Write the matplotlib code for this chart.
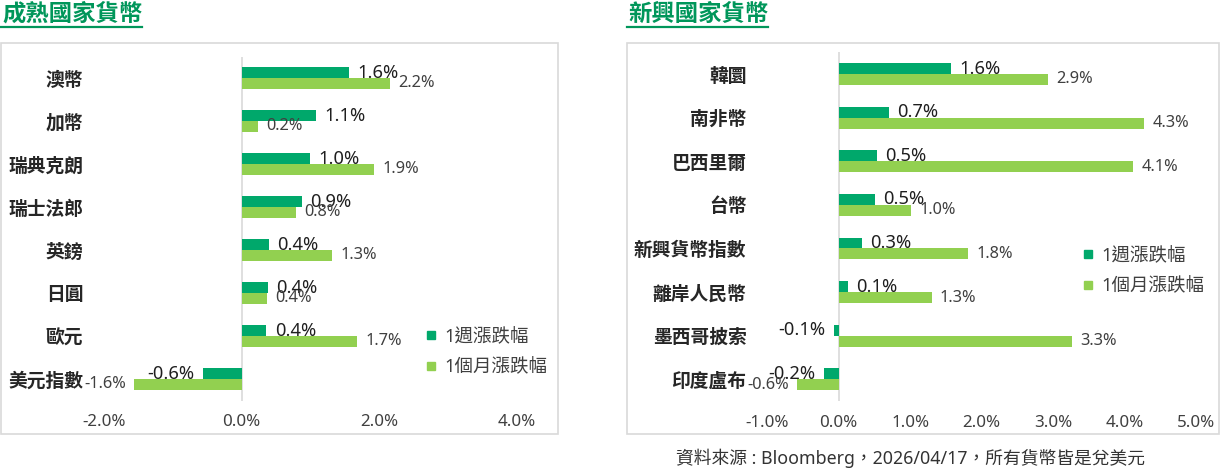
import matplotlib
matplotlib.use('Agg')
import matplotlib.pyplot as plt
from matplotlib.patches import Rectangle
from matplotlib.lines import Line2D

# ---------------- data ----------------
dev_categories = ['澳幣', '加幣', '瑞典克朗', '瑞士法郎', '英鎊', '日圓', '歐元', '美元指數']
dev_week = [1.56, 1.08, 0.99, 0.88, 0.39, 0.38, 0.36, -0.56]
dev_month = [2.16, 0.23, 1.92, 0.79, 1.32, 0.37, 1.68, -1.56]
dev_ticks = [-2, 0, 2, 4]

em_categories = ['韓圜', '南非幣', '巴西里爾', '台幣', '新興貨幣指數', '離岸人民幣', '墨西哥披索', '印度盧布']
em_week = [1.57, 0.70, 0.54, 0.51, 0.32, 0.13, -0.07, -0.21]
em_month = [2.93, 4.28, 4.12, 1.01, 1.81, 1.30, 3.27, -0.58]
em_ticks = [-1, 0, 1, 2, 3, 4, 5]

series_names = ['1週漲跌幅', '1個月漲跌幅']
titles = ['成熟國家貨幣', '新興國家貨幣']
source_text = '資料來源 : Bloomberg，2026/04/17，所有貨幣皆是兌美元'

# ---------------- style ----------------
W, H = 1222, 471
C_WEEK = '#00A86B'
C_MONTH = '#92D050'
C_TITLE = '#00965A'
CJK = ['Noto Sans CJK TC', 'DejaVu Sans']
NUM = ['Noto Sans', 'Noto Sans CJK TC']
plt.rcParams['font.family'] = CJK


def fx(px):
    return px / W


def fy(py):
    return 1 - py / H


fig = plt.figure(figsize=(W / 100, H / 100), dpi=100)

# frames
for (x0, x1) in [(1, 558), (627, 1218.5)]:
    fig.patches.append(Rectangle((fx(x0), fy(433.5)), fx(x1) - fx(x0), fy(42.5) - fy(433.5),
                                 transform=fig.transFigure, fill=False,
                                 edgecolor='#d9d9d9', lw=1.2))

# titles with underline
for (tx, ux0, ux1, t) in [(2, 1, 142, titles[0]), (628, 627, 768, titles[1])]:
    fig.text(fx(tx), fy(14), t, ha='left', va='center', fontsize=16.8,
             fontweight='bold', color=C_TITLE, family=CJK)
    fig.lines.append(Line2D([fx(ux0), fx(ux1)], [fy(27), fy(27)],
                            transform=fig.transFigure, color=C_TITLE, lw=1.6))


def panel(rect, cats, week, month, ticks, xlim, legend_xy):
    ax = fig.add_axes(rect)
    n = len(cats)
    pos = list(range(n))
    bh = 0.25
    yw = [p - bh / 2 for p in pos]
    ym = [p + bh / 2 for p in pos]
    ax.barh(yw, week, height=bh, color=C_WEEK, label=series_names[0], zorder=2)
    ax.barh(ym, month, height=bh, color=C_MONTH, label=series_names[1], zorder=2)
    ax.set_xlim(*xlim)
    ax.set_ylim(n - 0.5, -0.5)
    ax.axvline(0, color='#d9d9d9', lw=1.2, zorder=1)
    for s in ax.spines.values():
        s.set_visible(False)
    ax.set_yticks(pos)
    ax.set_yticklabels(cats, fontsize=13.5, color='#262626', family=CJK, fontweight='bold')
    ax.set_xticks(ticks)
    ax.set_xticklabels([f'{t:.1f}%' for t in ticks], fontsize=12.2, color='#404040', family=NUM)
    ax.tick_params(axis='y', length=0, pad=15)
    ax.tick_params(axis='x', length=0, pad=10)
    for y, v in zip(yw, week):
        off = 6 if v >= 0 else -6
        ax.annotate(f'{v:.1f}%', (v, y), xytext=(off, 0), textcoords='offset points',
                    ha='left' if v >= 0 else 'right', va='center',
                    fontsize=13.2, color='#1f1f1f', family=NUM, fontweight='medium', zorder=3)
    for y, v in zip(ym, month):
        off = 6 if v >= 0 else -6
        ax.annotate(f'{v:.1f}%', (v, y), xytext=(off, 0), textcoords='offset points',
                    ha='left' if v >= 0 else 'right', va='center',
                    fontsize=11.8, color='#404040', family=NUM, zorder=3)
    handles = [Line2D([], [], marker='s', linestyle='none', markersize=5.2,
                      markerfacecolor=c, markeredgecolor=c) for c in (C_WEEK, C_MONTH)]
    leg = ax.legend(handles, series_names, loc='center left',
                    bbox_to_anchor=(fx(legend_xy[0]), fy(legend_xy[1])),
                    bbox_transform=fig.transFigure, frameon=False,
                    prop={'family': NUM, 'size': 13.3}, handlelength=0.45,
                    handletextpad=0.5, labelspacing=0.66,
                    borderpad=0, borderaxespad=0)
    for t in leg.get_texts():
        t.set_color('#404040')
    return ax


panel([fx(104.2), fy(400.5), fx(516.7) - fx(104.2), fy(56.5) - fy(400.5)],
      dev_categories, dev_week, dev_month, dev_ticks, (-2, 4), (427, 352))
panel([fx(767.3), fy(401.1), fx(1195.7) - fx(767.3), fy(52.2) - fy(401.1)],
      em_categories, em_week, em_month, em_ticks, (-1, 5), (1084, 271))

fig.text(fx(910), fy(458), source_text, ha='center', va='center', fontsize=12.8,
         color='#333333', family=NUM)

fig.savefig('out.png', dpi=100)
